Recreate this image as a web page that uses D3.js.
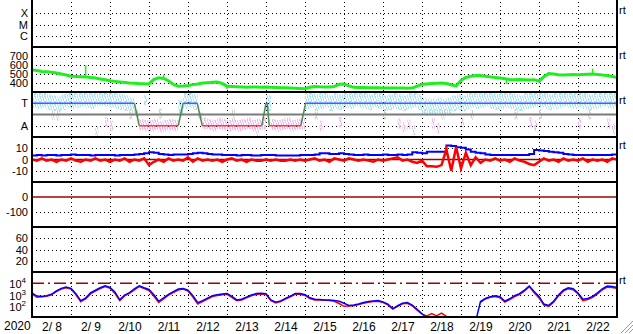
<!DOCTYPE html>
<html>
<head>
<meta charset="utf-8">
<script src="https://cdn.jsdelivr.net/npm/d3@7"></script>
<style>
  body { margin: 0; background: #fff; }
  svg { display: block; font-family: Arial, "Liberation Sans", sans-serif; }
</style>
</head>
<body>
<div id="container"></div>
<script>
// ------ Data (3-hour samples from 2020-02-08 00:00) ------
const sampleStep = 3;

const windSpeed = [
  545,538,528,524,520,510,500,488,475,472,
  470,468,462,455,445,435,425,418,412,406,
  400,398,394,392,390,440,458,450,425,385,
  365,368,373,382,390,400,404,408,410,395,
  365,362,358,355,352,355,356,354,355,352,
  350,348,346,344,342,340,337,352,362,358,
  356,355,362,385,388,368,352,350,350,348,
  347,346,344,344,345,344,344,343,344,365,
  385,390,395,398,400,395,380,365,430,462,
  475,484,482,475,468,460,455,448,440,437,
  438,436,434,437,420,470,505,500,492,490,
  492,494,492,495,498,500,495,488,484,472,
  462];

const windSpikeHours = [33, 81, 120, 292, 345];
const windSpikeBase = [470, 455, 365, 445, 500];
const windSpikeTip = [595, 492, 333, 389, 560];

const imfBt = [
  3.5,4,3.5,4,4,3.5,4,4,4.5,4,
  4,4,3.5,4,4,4,4,3.5,4,4,
  4,4.5,5,5.5,6.5,6,5,4.5,4,4.5,
  4.5,4.5,5,5.5,6,5.5,5,4.5,4.5,4,
  4,4,3.5,4,4,3.5,3.5,4,4,4,
  3.5,3.5,3.5,3.5,3.5,4,4,4,4.5,5.5,
  5.5,5,5,5.5,5,4.5,4,4,4.5,4,
  4,4,4.5,4,4,4.5,4,4.5,6.5,6,
  5.5,7,7,7,7,12.5,12,11,10.5,9,
  7,6,5.5,4.5,4,4,4,4,4,4,
  4,4,5,8.5,8,7.5,7,6.5,6,5,
  4.5,4,4,4,4,4,4,4,4,4.5,
  4.5];

const imfBz = [
  0,-1,1,-1,0,-2,0,-1,1,-1,
  -2,0,-1,1,-1,0,-2,0,-1,1,
  -2,0,-1,1,-5,-2,0,-2,1,-1,
  0,-1,2,-2,1,-1,0,-1,0,-2,
  0,1,-1,0,-2,0,-1,-1,0,-1,
  0,-1,-1,0,-1,0,-1,0,1,-1,
  0,-2,1,0,-1,1,0,-1,0,-1,
  -2,0,-1,0,1,2,-1,0,-2,-3,
  -1,-6,-6,-6.5,-5,9,-10,11,-8,6,
  -5,2,-3,0,-1,1,-1,0,-2,1,
  -1,-2,-4,-5,-2,1,-1,0,-2,1,
  -1,0,-1,1,-2,0,-1,0,-2,1,
  0];

// log10 of flux, two channels
const fluxBlueLog = [
  3.14,2.86,2.83,2.89,3.02,3.32,3.54,3.66,3.54,3.08,
  2.46,2.68,3.14,3.38,3.6,3.78,3.63,3.23,2.52,2.95,
  3.17,3.51,3.78,3.6,3.45,2.98,2.4,2.71,3.02,3.26,
  3.48,3.54,3.38,2.89,2.28,2.46,2.68,2.89,2.98,3.05,
  3.08,2.83,2.52,2.58,2.77,2.95,3.08,3.11,3.08,2.52,
  2.31,2.43,2.65,2.86,3.08,3.08,2.98,2.71,2.58,2.55,
  2.52,2.52,2.46,2.4,2.22,2.03,2.06,2.15,2.28,2.37,
  2.43,2.46,2.34,2.15,1.75,2.0,2.22,2.28,2.06,1.69,
  1.29,0.92,0.6,0.6,0.6,0.6,0.6,0.6,0.6,0.6,
  0.6,0.6,2.37,2.65,2.8,2.89,2.8,2.4,2.62,2.89,
  3.08,3.38,3.75,3.26,2.83,2.15,2.03,2.4,2.95,3.38,
  3.6,3.51,3.14,2.58,2.65,2.83,3.14,3.51,3.75,3.72,
  3.63];

const fluxRedLog = [
  3.05,2.75,2.8,2.85,2.98,3.25,3.48,3.6,3.48,2.98,
  2.35,2.6,3.05,3.3,3.52,3.7,3.55,3.1,2.45,2.88,
  3.1,3.42,3.7,3.52,3.35,2.85,2.3,2.62,2.95,3.18,
  3.4,3.48,3.3,2.78,2.15,2.38,2.6,2.82,2.92,2.98,
  3.02,2.75,2.45,2.52,2.7,2.88,3.0,3.05,3.0,2.45,
  2.25,2.38,2.6,2.8,3.02,3.02,2.92,2.65,2.52,2.5,
  2.48,2.47,2.4,2.2,1.95,1.98,2.0,2.1,2.22,2.32,
  2.38,2.4,2.28,2.08,1.7,1.95,2.17,2.22,2.0,1.6,
  1.25,1.1,1.3,1.1,1.35,1.05,null,null,null,null,
  null,null,2.3,2.6,2.75,2.82,2.72,2.32,2.55,2.82,
  3.0,3.3,3.7,3.15,2.7,2.05,1.95,2.32,2.88,3.3,
  3.52,3.42,3.05,2.45,2.55,2.75,3.05,3.42,3.65,3.62,
  3.55];

// IMF angle scatter (panel units: A=1, T=3), one value per 3-hour bin
const phiCenter = [
  3.3,3.2,3.3,3.1,3.0,2.9,3.1,3.3,3.2,3.3,
  3.4,3.3,3.2,3.4,3.5,3.4,3.3,3.2,3.1,3.0,
  2.8,2.1,1.1,1.0,1.0,1.1,0.9,1.0,1.1,1.0,
  2.6,3.2,3.3,3.1,1.9,1.2,1.1,1.0,1.2,1.1,
  1.0,1.1,1.0,1.1,1.2,1.0,1.1,1.2,3.0,1.1,
  1.0,1.1,1.2,1.0,1.1,1.2,3.2,3.3,3.1,3.2,
  3.3,3.0,3.2,3.1,3.3,3.2,3.4,3.3,3.2,3.1,
  3.3,3.2,3.0,3.1,3.2,3.1,3.0,3.2,3.3,3.1,
  2.8,2.7,2.7,2.8,2.7,2.8,3.0,3.1,3.0,3.2,
  3.3,3.2,3.3,3.4,3.2,3.1,3.2,3.3,3.2,3.1,
  3.0,3.2,3.3,3.4,3.3,3.2,3.1,3.2,3.3,3.4,
  3.3,3.2,3.3,3.2,3.1,3.2,3.3,3.4,3.3,3.2];

const phiAltHours = [12,15,39,45,48,60,69,78,123,138,174,177,189,216,225,228,231,234,246,249,252,264,270,297,306,309,312,336,342,354,357];
const phiAltValues = [2.0,1.9,0.5,1.3,1.0,2.0,3.3,2.1,2.0,0.5,2.0,1.0,1.3,2.0,1.2,0.9,1.1,0.6,1.2,0.8,2.0,1.3,2.0,2.0,1.3,1.0,2.0,1.2,2.0,1.2,0.7];

// sector polarity (T / A)
const sectorHours = [0, 63, 66, 90, 93, 101.7, 104.8, 141.4, 144, 144.8, 146, 165.4, 168.4, 360];
const sectorLevels = ['T','T','A','A','T','T','A','A','T','T','A','A','T','T'];

const flareTicks = [3, 2, 1], flareLabels = ['X', 'M', 'C'];
const windTicks = [700, 600, 500, 400];
const sectorTicks = [3, 1], sectorLabels = ['T', 'A'];
const bzTicks = [10, 0, -10];
const dstTicks = [0, -100];
const kpTicks = [60, 40, 20];
const fluxTicks = [1e4, 1e3, 1e2];


// ------ Layout ------
const width = 633, height = 334;
const left = 32, right = 617;
const panelTop = [2, 47, 92, 137, 182, 227, 272], panelH = 45;
const bottom = 317;
const fontSize = 11;
const start = new Date(2020, 1, 8), end = new Date(2020, 1, 23);
const hourDate = h => new Date(start.getTime() + h * 3600e3);

const svg = d3.select('#container').append('svg')
  .attr('width', width)
  .attr('height', height);

const x = d3.scaleTime().domain([start, end]).range([left, right]);
const pY = (i, d) => d3.scaleLinear().domain(d).range([panelTop[i] + panelH, panelTop[i]]);
const yFlare = pY(0, [0, 4]);
const yWind = pY(1, [300, 800]);
const yPhi = pY(2, [0, 4]);
const yBz = pY(3, [-20, 20]);
const yDst = pY(4, [-200, 100]);
const yKp = pY(5, [0, 80]);
const yFlux = d3.scaleLog().domain([10, 1e5]).range([panelTop[6] + panelH, panelTop[6]]);

const defs = svg.append('defs');
panelTop.forEach((t, i) => {
  defs.append('clipPath').attr('id', 'clip' + i)
    .append('rect').attr('x', left + 1).attr('y', t + 1)
    .attr('width', right - left - 2).attr('height', panelH - 2);
});

function speckle(id, color) {
  const p = defs.append('pattern').attr('id', id)
    .attr('patternUnits', 'userSpaceOnUse').attr('width', 5).attr('height', 8);
  [[0,0,3],[0,5,2],[1,3,3],[2,0,2],[2,6,2],[3,2,3],[4,5,3],[4,0,1]].forEach(([a, b, h]) => {
    p.append('rect').attr('x', a).attr('y', b).attr('width', 1).attr('height', h).attr('fill', color);
  });
}
speckle('spCyan', '#a9e3f7');
speckle('spPink', '#f6b5ee');
speckle('spGray', '#cfcfcf');

// ------ Grid ------
const grid = svg.append('g');
function hDots(scale, values) {
  values.forEach(v => {
    const yy = Math.round(scale(v)) + 0.5;
    grid.append('line').attr('x1', left).attr('x2', right).attr('y1', yy).attr('y2', yy)
      .attr('stroke', '#000').attr('stroke-width', 1).attr('stroke-dasharray', '1,3');
  });
}
hDots(yFlare, flareTicks);
hDots(yWind, windTicks);
hDots(yPhi, sectorTicks);
hDots(yBz, [10, -10]);
hDots(yDst, [-100]);
hDots(yKp, kpTicks);
hDots(yFlux, [1e3, 1e2]);

d3.timeDay.range(d3.timeDay.offset(start, 1), end).forEach(d => {
  const xx = Math.round(x(d)) + 0.5;
  grid.append('line').attr('x1', xx).attr('x2', xx).attr('y1', 2).attr('y2', bottom)
    .attr('stroke', '#000').attr('stroke-dasharray', '1,3');
});

// ------ Panel 3 : sector scatter ------
const phiFill = v => v >= 2.3 ? 'url(#spCyan)' : (v > 1.7 || v < 0.7) ? 'url(#spGray)' : 'url(#spPink)';
const phiHalf = v => v >= 2.3 ? 0.7 : (v > 1.7 || v < 0.7) ? 0.3 : 0.5;
const gPhi = svg.append('g').attr('clip-path', 'url(#clip2)');
gPhi.selectAll('.phi').data(phiCenter).enter().append('rect')
  .attr('x', (d, i) => x(hourDate(i * sampleStep)))
  .attr('width', (d, i) => x(hourDate((i + 1) * sampleStep)) - x(hourDate(i * sampleStep)))
  .attr('y', d => yPhi(d + phiHalf(d)))
  .attr('height', d => yPhi(d - phiHalf(d)) - yPhi(d + phiHalf(d)))
  .attr('fill', d => phiFill(d));
gPhi.selectAll('.phiAlt').data(phiAltValues).enter().append('rect')
  .attr('x', (d, i) => x(hourDate(phiAltHours[i])))
  .attr('width', 3)
  .attr('y', d => yPhi(d + 0.45))
  .attr('height', d => yPhi(d - 0.45) - yPhi(d + 0.45))
  .attr('fill', d => phiFill(d));

gPhi.append('line').attr('x1', left).attr('x2', right)
  .attr('y1', yPhi(2)).attr('y2', yPhi(2))
  .attr('stroke', '#7a7a7a').attr('stroke-width', 2);

const lvl = s => s === 'T' ? 3 : 1;
for (let i = 0; i < sectorHours.length - 1; i++) {
  const a = sectorLevels[i], b = sectorLevels[i + 1];
  const col = a !== b ? '#4f8a4f' : (a === 'T' ? '#4a5cff' : '#ff3b3b');
  gPhi.append('line')
    .attr('x1', x(hourDate(sectorHours[i]))).attr('y1', yPhi(lvl(a)))
    .attr('x2', x(hourDate(sectorHours[i + 1]))).attr('y2', yPhi(lvl(b)))
    .attr('stroke', col).attr('stroke-width', 1.5);
}

// ------ Panel 2 : wind speed ------
const gWind = svg.append('g').attr('clip-path', 'url(#clip1)');
gWind.append('path').datum(windSpeed)
  .attr('d', d3.line().x((d, i) => x(hourDate(i * sampleStep))).y(d => yWind(d)))
  .attr('fill', 'none').attr('stroke', '#1fef1f').attr('stroke-width', 3);
windSpikeHours.forEach((h, i) => {
  gWind.append('line').attr('x1', x(hourDate(h))).attr('x2', x(hourDate(h)))
    .attr('y1', yWind(windSpikeBase[i])).attr('y2', yWind(windSpikeTip[i]))
    .attr('stroke', '#1fef1f').attr('stroke-width', 1.5);
});

// ------ Panel 4 : IMF ------
const gBz = svg.append('g').attr('clip-path', 'url(#clip3)');
gBz.append('line').attr('x1', left).attr('x2', right).attr('y1', yBz(0)).attr('y2', yBz(0))
  .attr('stroke', '#a00000').attr('stroke-width', 1.5);
gBz.append('path').datum(imfBt)
  .attr('d', d3.line().curve(d3.curveStepAfter).x((d, i) => x(hourDate(i * sampleStep))).y(d => yBz(d)))
  .attr('fill', 'none').attr('stroke', '#0000ff').attr('stroke-width', 2);
gBz.append('path').datum(imfBz)
  .attr('d', d3.line().x((d, i) => x(hourDate(i * sampleStep))).y(d => yBz(d)))
  .attr('fill', 'none').attr('stroke', '#ff0000').attr('stroke-width', 2.5);

// ------ Panel 5 : zero line ------
svg.append('line').attr('x1', left).attr('x2', right).attr('y1', yDst(0)).attr('y2', yDst(0))
  .attr('stroke', '#a00000').attr('stroke-width', 1.5);

// ------ Panel 7 : flux ------
const gFlux = svg.append('g').attr('clip-path', 'url(#clip6)');
gFlux.append('line').attr('x1', left).attr('x2', right).attr('y1', yFlux(1e4)).attr('y2', yFlux(1e4))
  .attr('stroke', '#a00000').attr('stroke-width', 1.5).attr('stroke-dasharray', '12,4,2,4');
const fluxLine = d3.line()
  .defined(d => d !== null)
  .x((d, i) => x(hourDate(i * sampleStep)))
  .y(d => yFlux(Math.pow(10, d)));
gFlux.append('path').datum(fluxRedLog).attr('d', fluxLine)
  .attr('fill', 'none').attr('stroke', '#ff0000').attr('stroke-width', 1.5);
gFlux.append('path').datum(fluxBlueLog).attr('d', fluxLine)
  .attr('fill', 'none').attr('stroke', '#0000ff').attr('stroke-width', 1.5);

// ------ Frame ------
const frame = svg.append('g').attr('stroke', '#000').attr('stroke-width', 2);
panelTop.slice(1).concat([bottom]).forEach(t => {
  frame.append('line').attr('x1', left - 1).attr('x2', right + 1).attr('y1', t).attr('y2', t);
});
frame.append('line').attr('x1', left).attr('x2', left).attr('y1', 0).attr('y2', bottom + 1);
frame.append('line').attr('x1', right).attr('x2', right).attr('y1', 0).attr('y2', bottom + 1);

// ------ Axes ------
function leftAxis(scale, values, labels) {
  const g = svg.append('g').attr('transform', `translate(${left},0)`)
    .call(d3.axisLeft(scale).tickValues(values).tickSize(0).tickPadding(4)
      .tickFormat((d, i) => labels ? labels[i] : d));
  g.select('.domain').remove();
  g.attr('font-size', fontSize).attr('font-family', 'Arial, "Liberation Sans", sans-serif');
  g.selectAll('text').attr('fill', '#000');
}
leftAxis(yFlare, flareTicks, flareLabels);
leftAxis(yWind, windTicks);
leftAxis(yPhi, sectorTicks, sectorLabels);
leftAxis(yBz, bzTicks);
leftAxis(yDst, dstTicks);
leftAxis(yKp, kpTicks);

fluxTicks.forEach(v => {
  const t = svg.append('text').attr('x', 26).attr('y', yFlux(v) + 5)
    .attr('text-anchor', 'end').attr('font-size', fontSize);
  t.append('tspan').text('10');
  t.append('tspan').attr('font-size', 8).attr('dy', -5).text(Math.round(Math.log10(v)));
});

const dayNoons = d3.timeDay.range(start, end).map(d => d3.timeHour.offset(d, 12));
const xAxis = svg.append('g').attr('transform', `translate(0,${bottom})`)
  .call(d3.axisBottom(x).tickValues(dayNoons).tickSize(0).tickPadding(5)
    .tickFormat(d3.timeFormat('%-m/%e')));
xAxis.select('.domain').remove();
xAxis.attr('font-size', 12).attr('font-family', 'Arial, "Liberation Sans", sans-serif');
xAxis.selectAll('text').attr('fill', '#000').style('white-space', 'pre');

svg.append('text').attr('x', 4).attr('y', 330).attr('font-size', 12).text('2020');

[0, 1, 2, 3, 6].forEach(i => {
  svg.append('text').attr('x', 619).attr('y', panelTop[i] + 12).attr('font-size', fontSize).text('rt');
});

// size grip
[[621, 12], [625, 8], [629, 4]].forEach(([a, l]) => {
  svg.append('line').attr('x1', a).attr('y1', 333).attr('x2', a + l).attr('y2', 333 - l)
    .attr('stroke', '#9a9a9a').attr('stroke-width', 1);
});
</script>
</body>
</html>
